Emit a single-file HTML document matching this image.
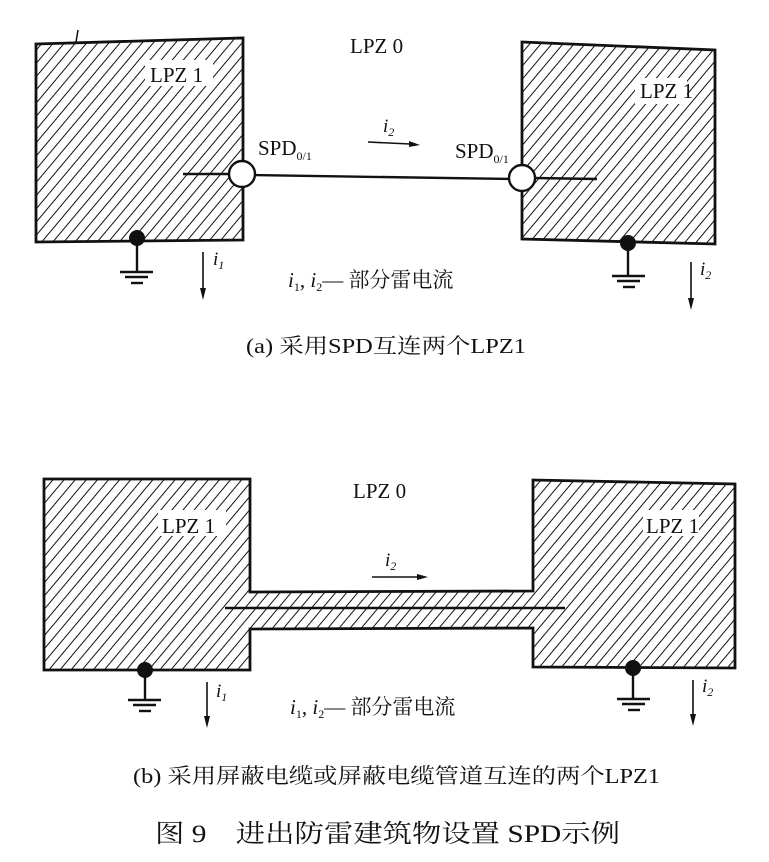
<!DOCTYPE html>
<html><head><meta charset="utf-8"><style>
html,body{margin:0;padding:0;background:#fff;}
svg{display:block;}
text{font-family:"Liberation Serif","Noto Serif CJK SC",serif;fill:#111;}
</style></head><body>
<svg width="769" height="862" viewBox="0 0 769 862" xmlns="http://www.w3.org/2000/svg">
<defs>
<pattern id="h" patternUnits="userSpaceOnUse" width="8.5" height="8.5" patternTransform="rotate(40)">
<rect width="8.5" height="8.5" fill="#fff"/>
<line x1="0" y1="0" x2="0" y2="8.5" stroke="#111" stroke-width="2"/>
</pattern>
</defs>
<g stroke="#111" stroke-width="2.8" fill="url(#h)">
<polygon points="36,44 243,38 243,240 36,242"/>
<polygon points="522,42 715,50 715,244 522,239"/>
</g>
<rect x="145" y="60" width="68" height="26" fill="#fff"/>
<rect x="635" y="78" width="52" height="26" fill="#fff"/>
<text x="150" y="82" font-size="21">LPZ 1</text>
<text x="640" y="98" font-size="21">LPZ 1</text>
<text x="350" y="53" font-size="21">LPZ 0</text>
<line x1="76" y1="42" x2="78" y2="30" stroke="#111" stroke-width="1.5"/>
<g stroke="#111" stroke-width="2.4">
<line x1="183" y1="174" x2="238" y2="174"/>
<line x1="250" y1="175" x2="511" y2="179"/>
<line x1="535" y1="178" x2="597" y2="179"/>
</g>
<circle cx="242" cy="174" r="13" fill="#fff" stroke="#111" stroke-width="2.4"/>
<circle cx="522" cy="178" r="13" fill="#fff" stroke="#111" stroke-width="2.4"/>
<text x="258" y="155" font-size="21">SPD<tspan font-size="12" dy="5">0/1</tspan></text>
<text x="455" y="158" font-size="21">SPD<tspan font-size="12" dy="5">0/1</tspan></text>
<text x="383" y="132" font-size="19" font-style="italic">i<tspan font-size="12" dy="4">2</tspan></text>
<line x1="368" y1="142" x2="410" y2="144" stroke="#111" stroke-width="1.6"/>
<polygon points="420,145 409,141 409,147" fill="#111"/>
<g stroke="#111" stroke-width="2.4">
<line x1="137" y1="240" x2="137" y2="272"/>
<line x1="120" y1="272" x2="153" y2="272"/>
<line x1="125" y1="277" x2="148" y2="277"/>
<line x1="131" y1="283" x2="143" y2="283"/>
<line x1="628" y1="246" x2="628" y2="276"/>
<line x1="612" y1="276" x2="645" y2="276"/>
<line x1="617" y1="281" x2="640" y2="281"/>
<line x1="623" y1="287" x2="635" y2="287"/>
</g>
<circle cx="137" cy="238" r="8" fill="#111"/>
<circle cx="628" cy="243" r="8" fill="#111"/>
<g stroke="#111" stroke-width="1.6">
<line x1="203" y1="252" x2="203" y2="290"/>
<line x1="691" y1="262" x2="691" y2="300"/>
</g>
<polygon points="203,300 200,288 206,288" fill="#111"/>
<polygon points="691,310 688,298 694,298" fill="#111"/>
<text x="213" y="265" font-size="19" font-style="italic">i<tspan font-size="12" dy="4">1</tspan></text>
<text x="700" y="275" font-size="19" font-style="italic">i<tspan font-size="12" dy="4">2</tspan></text>
<text x="288" y="287" font-size="21"><tspan font-style="italic">i</tspan><tspan font-size="12" dy="4">1</tspan><tspan dy="-4">, </tspan><tspan font-style="italic">i</tspan><tspan font-size="12" dy="4">2</tspan><tspan dy="-4">— 部分雷电流</tspan></text>
<text x="246" y="353" font-size="21" textLength="280" lengthAdjust="spacingAndGlyphs">(a) 采用SPD互连两个LPZ1</text>

<g stroke="#111" stroke-width="2.8" fill="url(#h)">
<path d="M44,479 L250,479 L250,592 L533,591 L533,480 L735,484 L735,668 L533,667 L533,628 L250,629 L250,670 L44,670 Z"/>
</g>
<line x1="225" y1="608" x2="565" y2="608" stroke="#111" stroke-width="2.4"/>
<rect x="158" y="510" width="68" height="26" fill="#fff"/>
<rect x="643" y="510" width="56" height="26" fill="#fff"/>
<text x="162" y="533" font-size="21">LPZ 1</text>
<text x="646" y="533" font-size="21">LPZ 1</text>
<text x="353" y="498" font-size="21">LPZ 0</text>
<text x="385" y="566" font-size="19" font-style="italic">i<tspan font-size="12" dy="4">2</tspan></text>
<line x1="372" y1="577" x2="418" y2="577" stroke="#111" stroke-width="1.6"/>
<polygon points="428,577 417,574 417,580" fill="#111"/>
<g stroke="#111" stroke-width="2.4">
<line x1="145" y1="672" x2="145" y2="700"/>
<line x1="128" y1="700" x2="161" y2="700"/>
<line x1="133" y1="705" x2="156" y2="705"/>
<line x1="139" y1="711" x2="151" y2="711"/>
<line x1="633" y1="670" x2="633" y2="699"/>
<line x1="617" y1="699" x2="650" y2="699"/>
<line x1="622" y1="704" x2="645" y2="704"/>
<line x1="628" y1="710" x2="640" y2="710"/>
</g>
<circle cx="145" cy="670" r="8" fill="#111"/>
<circle cx="633" cy="668" r="8" fill="#111"/>
<g stroke="#111" stroke-width="1.6">
<line x1="207" y1="682" x2="207" y2="718"/>
<line x1="693" y1="680" x2="693" y2="716"/>
</g>
<polygon points="207,728 204,716 210,716" fill="#111"/>
<polygon points="693,726 690,714 696,714" fill="#111"/>
<text x="216" y="697" font-size="19" font-style="italic">i<tspan font-size="12" dy="4">1</tspan></text>
<text x="702" y="692" font-size="19" font-style="italic">i<tspan font-size="12" dy="4">2</tspan></text>
<text x="290" y="714" font-size="21"><tspan font-style="italic">i</tspan><tspan font-size="12" dy="4">1</tspan><tspan dy="-4">, </tspan><tspan font-style="italic">i</tspan><tspan font-size="12" dy="4">2</tspan><tspan dy="-4">— 部分雷电流</tspan></text>
<text x="133" y="783" font-size="21" textLength="527" lengthAdjust="spacingAndGlyphs">(b) 采用屏蔽电缆或屏蔽电缆管道互连的两个LPZ1</text>
<text x="155" y="842" font-size="25" textLength="465" lengthAdjust="spacingAndGlyphs">图 9　进出防雷建筑物设置 SPD示例</text>
</svg>
</body></html>
